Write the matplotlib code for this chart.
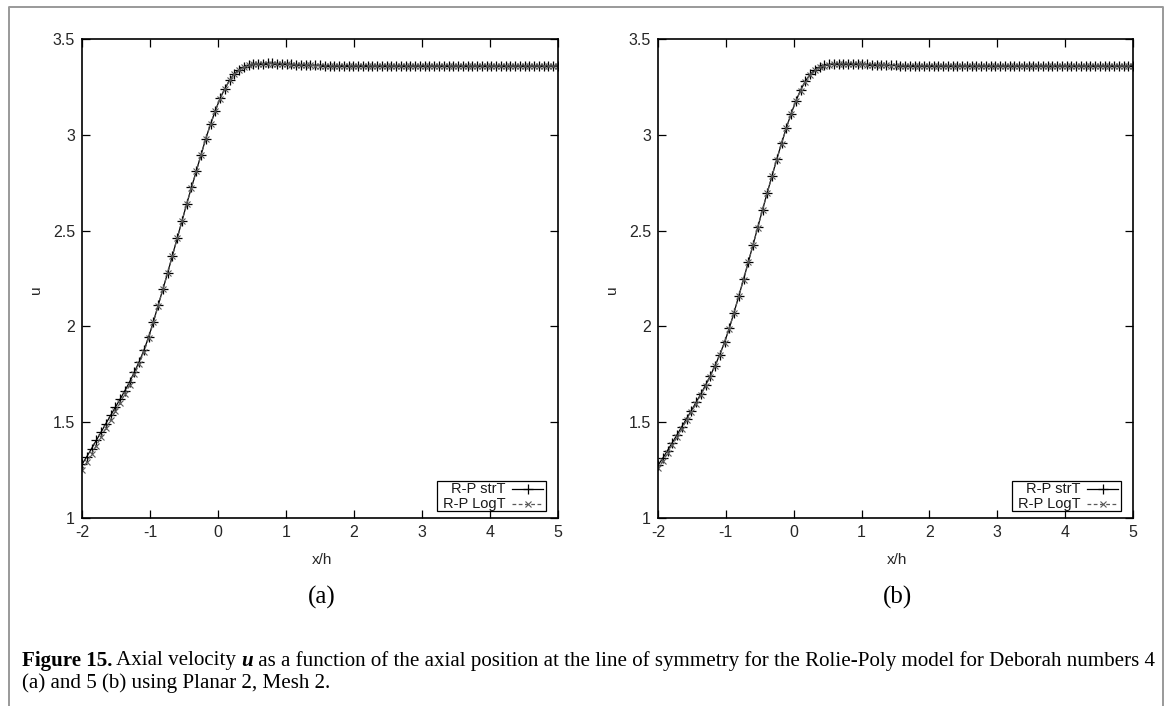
"""Fig 15 - axial velocity along the line of symmetry, Rolie-Poly, De 4 and 5."""

import matplotlib

matplotlib.use("Agg")
import matplotlib.pyplot as plt
import numpy as np
from matplotlib.lines import Line2D
from matplotlib.patches import Rectangle

plt.rcParams["axes.unicode_minus"] = False

SANS = ["Liberation Sans Narrow", "Liberation Sans", "DejaVu Sans"]
SERIF = ["Liberation Serif", "DejaVu Serif"]

# sampling grid along x/h (101 stations, -2 .. 5)
X_H = np.linspace(-2.0, 5.0, 101)

# (a) De = 4
U_STRT_A = [
    1.280, 1.320, 1.362, 1.405, 1.448, 1.492, 1.535, 1.578, 1.620, 1.664,
    1.710, 1.762, 1.815, 1.875, 1.945, 2.025, 2.110, 2.195, 2.280, 2.370,
    2.460, 2.550, 2.640, 2.725, 2.810, 2.895, 2.980, 3.055, 3.125, 3.190,
    3.240, 3.285, 3.318, 3.340, 3.355, 3.363, 3.368, 3.371, 3.372, 3.373,
    3.373, 3.372, 3.371, 3.369, 3.367, 3.366, 3.365, 3.364, 3.363, 3.362,
    3.362, 3.361, 3.361, 3.361, 3.361, 3.361, 3.361, 3.361, 3.361, 3.361,
    3.361, 3.360, 3.360, 3.360, 3.360, 3.360, 3.360, 3.360, 3.360, 3.360,
    3.360, 3.360, 3.360, 3.360, 3.360, 3.360, 3.360, 3.360, 3.360, 3.360,
    3.360, 3.360, 3.360, 3.360, 3.360, 3.360, 3.360, 3.360, 3.360, 3.360,
    3.360, 3.360, 3.360, 3.360, 3.360, 3.360, 3.360, 3.360, 3.360, 3.360,
    3.360,
]
U_LOGT_A = [
    1.250, 1.291, 1.334, 1.378, 1.423, 1.468, 1.512, 1.557, 1.601, 1.647,
    1.695, 1.749, 1.804, 1.866, 1.939, 2.021, 2.108, 2.194, 2.280, 2.369,
    2.459, 2.549, 2.639, 2.724, 2.809, 2.894, 2.979, 3.054, 3.124, 3.189,
    3.239, 3.284, 3.317, 3.339, 3.354, 3.362, 3.367, 3.370, 3.371, 3.372,
    3.372, 3.371, 3.370, 3.368, 3.366, 3.365, 3.364, 3.363, 3.362, 3.361,
    3.361, 3.360, 3.360, 3.360, 3.360, 3.360, 3.360, 3.360, 3.360, 3.360,
    3.360, 3.359, 3.359, 3.359, 3.359, 3.359, 3.359, 3.359, 3.359, 3.359,
    3.359, 3.359, 3.359, 3.359, 3.359, 3.359, 3.359, 3.359, 3.359, 3.359,
    3.359, 3.359, 3.359, 3.359, 3.359, 3.359, 3.359, 3.359, 3.359, 3.359,
    3.359, 3.359, 3.359, 3.359, 3.359, 3.359, 3.359, 3.359, 3.359, 3.359,
    3.359,
]

# (b) De = 5
U_STRT_B = [
    1.275, 1.312, 1.352, 1.393, 1.434, 1.476, 1.518, 1.560, 1.603, 1.647,
    1.693, 1.742, 1.795, 1.852, 1.917, 1.990, 2.072, 2.158, 2.245, 2.335,
    2.425, 2.517, 2.608, 2.698, 2.785, 2.872, 2.955, 3.035, 3.108, 3.175,
    3.232, 3.279, 3.315, 3.338, 3.354, 3.362, 3.367, 3.370, 3.371, 3.372,
    3.372, 3.371, 3.370, 3.368, 3.367, 3.366, 3.365, 3.364, 3.363, 3.362,
    3.362, 3.361, 3.361, 3.361, 3.361, 3.361, 3.361, 3.361, 3.361, 3.361,
    3.361, 3.360, 3.360, 3.360, 3.360, 3.360, 3.360, 3.360, 3.360, 3.360,
    3.360, 3.360, 3.360, 3.360, 3.360, 3.360, 3.360, 3.360, 3.360, 3.360,
    3.360, 3.360, 3.360, 3.360, 3.360, 3.360, 3.360, 3.360, 3.360, 3.360,
    3.360, 3.360, 3.360, 3.360, 3.360, 3.360, 3.360, 3.360, 3.360, 3.360,
    3.360,
]
U_LOGT_B = [
    1.260, 1.298, 1.339, 1.381, 1.423, 1.466, 1.509, 1.552, 1.596, 1.641,
    1.688, 1.738, 1.792, 1.850, 1.915, 1.989, 2.071, 2.157, 2.244, 2.334,
    2.424, 2.516, 2.607, 2.697, 2.784, 2.871, 2.954, 3.034, 3.107, 3.174,
    3.231, 3.278, 3.314, 3.337, 3.353, 3.361, 3.366, 3.369, 3.370, 3.371,
    3.371, 3.370, 3.369, 3.367, 3.366, 3.365, 3.364, 3.363, 3.362, 3.361,
    3.361, 3.360, 3.360, 3.360, 3.360, 3.360, 3.360, 3.360, 3.360, 3.360,
    3.360, 3.359, 3.359, 3.359, 3.359, 3.359, 3.359, 3.359, 3.359, 3.359,
    3.359, 3.359, 3.359, 3.359, 3.359, 3.359, 3.359, 3.359, 3.359, 3.359,
    3.359, 3.359, 3.359, 3.359, 3.359, 3.359, 3.359, 3.359, 3.359, 3.359,
    3.359, 3.359, 3.359, 3.359, 3.359, 3.359, 3.359, 3.359, 3.359, 3.359,
    3.359,
]

X_TICKS = [-2, -1, 0, 1, 2, 3, 4, 5]
X_TICK_LABELS = ["-2", "-1", "0", "1", "2", "3", "4", "5"]
Y_TICKS = [1.0, 1.5, 2.0, 2.5, 3.0, 3.5]
Y_TICK_LABELS = ["1", "1.5", "2", "2.5", "3", "3.5"]
LEGEND_LABELS = ["R-P strT", "R-P LogT"]
PANEL_TAGS = ["(a)", "(b)"]

CAPTION_1 = [
    ("Figure 15.", "bold", "normal"),
    (" Axial velocity ", "normal", "normal"),
    ("u", "bold", "italic"),
    (" as a function of the axial position at the line of symmetry for the "
     "Rolie-Poly model for Deborah numbers 4", "normal", "normal"),
]
CAPTION_2 = "(a) and 5 (b) using Planar 2, Mesh 2."

W, H = 1171, 706
fig = plt.figure(figsize=(W / 100, H / 100), dpi=100)


def _fx(px):
    return px / W


def _fy(py):
    return 1 - py / H


STYLE_STR = dict(color="black", lw=0.9, marker="+", ms=6.5, mew=0.9)
STYLE_LOG = dict(color="0.35", lw=0.9, ls=(0, (3, 2)), marker="x", ms=4.5, mew=0.8)
TICK_FS = 11.5
KEY_FS = 10.5
LABEL_FS = 11


def _panel(x0, x1, u_str, u_log, tag):
    y0, y1 = 518, 39
    aw, ah = x1 - x0, y0 - y1
    ax = fig.add_axes([_fx(x0), _fy(y0), aw / W, ah / H])
    ax.plot(X_H, u_str, **STYLE_STR)
    ax.plot(X_H, u_log, **STYLE_LOG)
    ax.set_xlim(-2, 5)
    ax.set_ylim(1, 3.5)
    ax.set_xticks(X_TICKS)
    ax.set_xticklabels(X_TICK_LABELS, family=SANS, fontsize=TICK_FS, color="0.15")
    ax.set_yticks(Y_TICKS)
    ax.set_yticklabels(Y_TICK_LABELS, family=SANS, fontsize=TICK_FS, color="0.15")
    ax.tick_params(direction="in", top=True, right=True, length=6, width=0.9, pad=5)
    for sp in ax.spines.values():
        sp.set_linewidth(1.2)

    # gnuplot-style key: text right aligned, sample on the right
    row_y = (0.0600, 0.0300)
    rows = []
    for yy, lab in zip(row_y, LEGEND_LABELS):
        t = ax.text(0.889, yy, lab, transform=ax.transAxes, ha="right", va="center",
                    family=SANS, fontsize=KEY_FS, color="0.1")
        rows.append(t)
    left = min(t.get_window_extent(fig.canvas.get_renderer()).x0 for t in rows)
    box_x0 = (left - 6 - fig.bbox.width * ax.get_position().x0) / aw
    ax.add_patch(Rectangle((box_x0, 0.0140), 0.975 - box_x0, 0.0640,
                           transform=ax.transAxes, fill=False, lw=0.9,
                           ec="black", zorder=5))
    for yy, st in zip(row_y, (STYLE_STR, STYLE_LOG)):
        line = {k: v for k, v in st.items() if k != "marker"}
        ax.add_line(Line2D([0.903, 0.969], [yy, yy], transform=ax.transAxes, **line))
        ax.add_line(Line2D([0.936], [yy], transform=ax.transAxes, ls="none",
                           marker=st["marker"], color=st["color"], ms=st["ms"],
                           mew=st["mew"]))

    xc = (x0 + x1) / 2 + 2
    fig.text(_fx(xc), _fy(560), "x/h", ha="center", va="center", family=SANS,
             fontsize=LABEL_FS, color="0.15")
    fig.text(_fx(x0 - 46), _fy(290), "u", ha="center", va="center", rotation=90,
             family=SANS, fontsize=LABEL_FS, color="0.15")
    fig.text(_fx(xc), _fy(597), tag, ha="center", va="center", family=SERIF,
             fontsize=18)
    return ax


_panel(82, 558, U_STRT_A, U_LOGT_A, PANEL_TAGS[0])
_panel(658, 1133, U_STRT_B, U_LOGT_B, PANEL_TAGS[1])

# outer page frame (open at the bottom)
fig.add_artist(Line2D([_fx(9), _fx(9), _fx(1163), _fx(1163)],
                      [0, _fy(7), _fy(7), 0], transform=fig.transFigure,
                      color="0.6", lw=1.4))

# caption, fitted to the width of the reference line
renderer = fig.canvas.get_renderer()


def _caption_line(size):
    texts, x = [], 22
    for s, weight, style in CAPTION_1:
        t = fig.text(_fx(x), _fy(661), s, ha="left", va="center", family=SERIF,
                     fontsize=size, fontweight=weight, fontstyle=style)
        x = t.get_window_extent(renderer).x1
        texts.append(t)
    return texts, x - 22


texts, width = _caption_line(12)
for t in texts:
    t.remove()
size = 12 * 1128 / width
texts, width = _caption_line(size)
fig.text(_fx(22), _fy(683), CAPTION_2, ha="left", va="center", family=SERIF,
         fontsize=size)

fig.savefig("out.png", dpi=100)
